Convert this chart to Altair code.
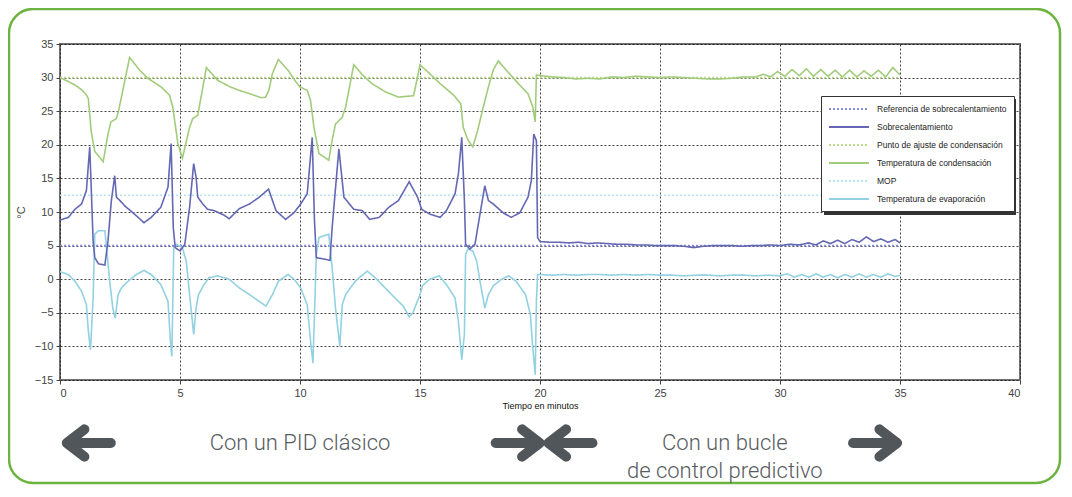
import altair as alt
import pandas as pd

# ---------------- data ----------------
series_names = [
    "Referencia de sobrecalentamiento",
    "Sobrecalentamiento",
    "Punto de ajuste de condensación",
    "Temperatura de condensación",
    "MOP",
    "Temperatura de evaporación",
]
series_colors = ["#8a8ed8", "#6468b4", "#bcdc8e", "#a2cc7b", "#b9e3ee", "#92d1e2"]
series_dash = [[2, 2], [1, 0], [2, 2], [1, 0], [2, 2], [1, 0]]

# Sobrecalentamiento
sh_t = [0, 0.35, 0.62, 0.9, 1.1, 1.24, 1.38, 1.45, 1.6, 1.87, 2.0, 2.14, 2.28, 2.35, 2.5, 2.7,
        3.1, 3.5, 3.8, 4.2, 4.5, 4.63, 4.72, 4.8, 5.0, 5.2, 5.4, 5.57, 5.67, 5.74, 5.95, 6.15,
        6.43, 6.85, 7.05, 7.47, 7.9, 8.3, 8.69, 9.0, 9.4, 9.75, 10.03, 10.3, 10.51, 10.6, 10.68,
        11.0, 11.25, 11.34, 11.62, 11.83, 12.24, 12.6, 12.9, 13.3, 13.7, 14.1, 14.55, 14.9, 15.07,
        15.4, 15.84, 16.1, 16.46, 16.6, 16.74, 16.85, 16.9, 17.08, 17.29, 17.5, 17.7, 17.85, 18.05,
        18.46, 18.8, 19.16, 19.5, 19.64, 19.74, 19.85, 19.9,
        20.0, 20.4, 20.8, 21.2, 21.6, 22.0, 22.4, 22.8, 23.2, 23.6, 24.0, 24.4, 24.8, 25.2, 25.6,
        26.0, 26.4, 26.8, 27.2, 27.6, 28.0, 28.4, 28.8, 29.2, 29.6, 30.0, 30.4, 30.8, 31.2, 31.5,
        31.8, 32.1, 32.4, 32.7, 33.0, 33.3, 33.6, 33.9, 34.2, 34.5, 34.8, 35.0]
sh_v = [8.8, 9.2, 10.4, 11.2, 13.2, 19.7, 5.7, 3.2, 2.3, 2.1, 5.7, 11.7, 15.4, 12.2, 11.7, 10.9,
        9.7, 8.4, 9.2, 10.7, 13.7, 20.2, 7.7, 4.7, 4.2, 5.2, 10.7, 17.2, 15.2, 12.2, 11.2, 10.4,
        10.2, 9.5, 9.0, 10.5, 11.2, 12.2, 13.4, 10.2, 8.9, 9.9, 11.2, 12.7, 21.1, 9.0, 3.2,
        3.0, 2.8, 7.7, 19.4, 12.2, 10.4, 10.2, 8.9, 9.2, 10.7, 11.7, 14.5, 12.2, 10.4,
        9.7, 9.2, 10.2, 12.7, 15.7, 21.1, 11.7, 5.2, 4.5, 5.2, 9.7, 13.9, 11.7, 11.2,
        9.9, 9.2, 9.9, 12.2, 14.7, 21.6, 20.6, 6.2,
        5.6, 5.5, 5.5, 5.4, 5.5, 5.3, 5.4, 5.3, 5.2, 5.2, 5.1, 5.1, 5.0, 5.0, 5.0,
        4.9, 4.7, 4.9, 5.0, 5.0, 5.0, 4.9, 5.0, 5.0, 5.1, 5.0, 5.2, 5.1, 5.4, 5.1,
        5.7, 5.3, 5.8, 5.3, 5.9, 5.5, 6.3, 5.6, 6.0, 5.5, 5.9, 5.4]

# Temperatura de condensación
cond_t = [0, 0.35, 0.62, 0.9, 1.1, 1.18, 1.3, 1.45, 1.8, 2.0, 2.12, 2.35, 2.45, 2.9, 3.32, 3.66,
          4.22, 4.56, 4.7, 4.91, 5.1, 5.4, 5.53, 5.74, 6.1, 6.57, 7.1, 7.47, 7.9, 8.4, 8.57, 8.7,
          8.85, 9.1, 9.5, 9.82, 10.0, 10.3, 10.44, 10.58, 10.79, 11.2, 11.34, 11.48, 11.76, 11.9,
          12.24, 12.6, 13.0, 13.55, 14.1, 14.73, 14.87, 15.0, 15.4, 15.84, 16.4, 16.7, 16.8, 17.0,
          17.2, 17.4, 17.6, 17.85, 18.05, 18.26, 18.6, 19.1, 19.5, 19.7, 19.8, 19.85,
          20.0, 20.5, 21.0, 21.5, 22.0, 22.5, 23.0, 23.5, 24.0, 24.5, 25.0, 25.5, 26.0, 26.5,
          27.0, 27.5, 28.0, 28.5, 29.0, 29.3, 29.6, 29.9, 30.2, 30.5, 30.8, 31.1, 31.4, 31.7,
          32.0, 32.3, 32.6, 32.9, 33.2, 33.5, 33.8, 34.1, 34.4, 34.7, 35.0]
cond_v = [30.0, 29.4, 28.9, 28.2, 27.4, 26.9, 22.0, 19.0, 17.5, 21.6, 23.4, 23.9, 25.2, 33.0, 31.1, 29.9,
          28.6, 27.4, 25.6, 20.2, 18.0, 22.6, 23.9, 24.4, 31.5, 29.6, 28.6, 28.1, 27.6, 27.0, 27.1, 28.1,
          30.6, 32.7, 31.1, 29.4, 28.6, 28.1, 26.6, 22.6, 18.7, 17.7, 20.7, 23.1, 24.1, 25.6,
          31.9, 30.4, 29.1, 27.9, 27.1, 27.3, 29.6, 31.9, 30.6, 29.1, 27.4, 26.1, 22.6, 20.7,
          19.7, 22.1, 25.1, 28.6, 31.1, 32.5, 31.1, 29.1, 27.6, 25.6, 23.4, 30.4,
          30.3, 30.1, 30.0, 29.8, 29.9, 29.8, 30.1, 30.0, 30.2, 30.1, 30.0, 30.1, 30.0, 29.9,
          29.8, 29.8, 29.9, 30.1, 30.1, 30.5, 30.1, 30.9, 30.2, 31.2, 30.3, 31.3, 30.2, 31.2,
          30.2, 31.1, 30.1, 31.1, 30.1, 31.0, 30.2, 31.1, 30.1, 31.5, 30.4]

# Temperatura de evaporación
evap_t = [0, 0.35, 0.62, 0.9, 1.1, 1.18, 1.27, 1.38, 1.45, 1.6, 1.87, 1.94, 2.07, 2.2, 2.3, 2.42,
          2.56, 2.84, 3.18, 3.5, 3.8, 4.2, 4.5, 4.6, 4.66, 4.74, 4.84, 5.1, 5.26, 5.4, 5.57, 5.67,
          5.77, 6.0, 6.2, 6.57, 6.85, 7.05, 7.47, 7.9, 8.3, 8.58, 8.85, 9.1, 9.5, 9.75, 10.03,
          10.3, 10.44, 10.54, 10.68, 10.79, 11.2, 11.34, 11.48, 11.66, 11.76, 11.9, 12.3, 12.8,
          13.14, 13.55, 13.96, 14.3, 14.55, 14.7, 15.0, 15.1, 15.4, 15.8, 16.1, 16.46, 16.6,
          16.74, 16.85, 16.9, 17.0, 17.2, 17.36, 17.5, 17.7, 17.85, 18.05, 18.4, 18.7, 19.0,
          19.4, 19.6, 19.7, 19.8, 19.85, 19.9,
          20.0, 20.5, 21.0, 21.5, 22.0, 22.5, 23.0, 23.5, 24.0, 24.5, 25.0, 25.5, 26.0, 26.5,
          27.0, 27.5, 28.0, 28.5, 29.0, 29.5, 30.0, 30.3, 30.6, 30.9, 31.2, 31.5, 31.8, 32.1,
          32.4, 32.7, 33.0, 33.3, 33.6, 33.9, 34.2, 34.5, 34.8, 35.0]
evap_v = [1.1, 0.7, -0.3, -1.8, -3.8, -7.7, -10.5, -2.8, 6.7, 7.2, 7.2, 4.7, -0.3, -4.3, -5.8, -2.3,
          -1.3, -0.3, 0.7, 1.3, 0.7, -0.8, -3.3, -9.2, -11.5, 4.7, 5.2, 4.7, 2.7, -2.3, -8.2, -4.3,
          -2.3, -0.8, 0.2, 0.5, 0.2, 0.0, -1.3, -2.3, -3.3, -4.0, -2.3, -0.3, 0.7, 0.0, -1.3,
          -3.8, -9.2, -12.5, 3.7, 6.2, 6.7, 1.7, -4.3, -10.0, -3.8, -2.3, -0.3, 1.2,
          0.2, -1.3, -2.8, -4.0, -5.6, -5.0, -2.3, -1.0, 0.0, 0.5, -0.8, -2.8, -6.3,
          -12.0, -8.2, 3.7, 4.5, 4.2, 2.7, -0.3, -4.3, -2.3, -1.0, 0.0, 0.5, -0.3,
          -2.3, -5.3, -10.2, -14.2, -3.3, 0.7,
          0.7, 0.6, 0.7, 0.6, 0.7, 0.7, 0.6, 0.7, 0.6, 0.7, 0.6, 0.6, 0.5, 0.6,
          0.6, 0.5, 0.6, 0.6, 0.5, 0.6, 0.5, 0.8, 0.3, 0.7, 0.3, 0.8, 0.3, 0.7,
          0.2, 0.7, 0.3, 0.8, 0.3, 0.7, 0.3, 0.8, 0.4, 0.6]

# Reference (set-point) lines
ref_t = [0, 35]
ref_sh_v = [5, 5]
ref_cond_v = [30, 30]
ref_mop_v = [12.5, 12.5]

x_ticks = [0, 5, 10, 15, 20, 25, 30, 35, 40]
y_ticks = [-15, -10, -5, 0, 5, 10, 15, 20, 25, 30, 35]

# Bottom annotations
ann1_text = ["Con un PID clásico", "Con un bucle"]
ann1_t = [10.0, 27.7]
ann2_text = ["de control predictivo"]
ann2_t = [27.7]
arrow_t = [1.2, 19.07, 21.27, 33.96]
arrow_dir = ["left", "right", "left", "right"]

# ---------------- build tables ----------------
rows = []
def add(name, ts, vs):
    for t, v in zip(ts, vs):
        rows.append({"t": t, "v": v, "serie": name})

add(series_names[0], ref_t, ref_sh_v)
add(series_names[2], ref_t, ref_cond_v)
add(series_names[4], ref_t, ref_mop_v)
add(series_names[5], evap_t, evap_v)
add(series_names[3], cond_t, cond_v)
add(series_names[1], sh_t, sh_v)
df = pd.DataFrame(rows)

ann1 = pd.DataFrame({"t": ann1_t, "txt": ann1_text})
ann2 = pd.DataFrame({"t": ann2_t, "txt": ann2_text})
arrows = pd.DataFrame({"t": arrow_t, "dir": arrow_dir})
frame = pd.DataFrame({"k": [0]})

x_scale = alt.Scale(domain=[0, 40], nice=False, zero=False)
y_scale = alt.Scale(domain=[-15, 35], nice=False, zero=False)

legend = alt.Legend(
    title=None, orient="none", legendX=761, legendY=52,
    symbolType="M-1,0H7", symbolSize=100, symbolStrokeWidth=2,
    labelFontSize=8.5, labelFont="Liberation Sans", labelColor="#222",
    labelLimit=260, labelOffset=37, rowPadding=7,
    strokeColor="#333", fillColor="white", padding=7,
)

lines = alt.Chart(df).mark_line(strokeWidth=1.6, clip=True).encode(
    x=alt.X("t:Q", scale=x_scale,
            axis=alt.Axis(values=x_ticks, title="Tiempo en minutos", format="d")),
    y=alt.Y("v:Q", scale=y_scale,
            axis=alt.Axis(values=y_ticks, title="°C", format="d")),
    color=alt.Color("serie:N", scale=alt.Scale(domain=series_names, range=series_colors),
                    legend=legend, sort=series_names),
    strokeDash=alt.StrokeDash("serie:N", scale=alt.Scale(domain=series_names, range=series_dash),
                              legend=legend, sort=series_names),
    detail="serie:N",
)

border = alt.Chart(frame).mark_rect(
    cornerRadius=24, fillOpacity=0, stroke="#6cb33f", strokeWidth=2.5
).encode(x=alt.value(-51), x2=alt.value(1000), y=alt.value(-35), y2=alt.value(439))

# shadow under the legend box (decoration)
legend_shadow = alt.Chart(frame).mark_rect(fill="#333").encode(
    x=alt.value(764), x2=alt.value(956), y=alt.value(55), y2=alt.value(171)
)

path_left = "M1,0L-1,0M-0.2,-0.62L-1,0L-0.2,0.62"
path_right = "M-1,0L1,0M0.2,-0.62L1,0L0.2,0.62"
arrow_layer = alt.Chart(arrows).mark_point(
    filled=False, stroke="#50565a", strokeWidth=10, strokeCap="round", strokeJoin="round",
    size=1936, opacity=1
).encode(
    x=alt.X("t:Q", scale=x_scale),
    y=alt.value(399),
    shape=alt.Shape("dir:N", scale=alt.Scale(domain=["left", "right"], range=[path_left, path_right]),
                    legend=None),
)

text1 = alt.Chart(ann1).mark_text(
    font="Roboto", fontWeight=300, fontSize=22, color="#575c60", align="center", baseline="middle"
).encode(x=alt.X("t:Q", scale=x_scale), y=alt.value(399), text="txt:N")
text2 = alt.Chart(ann2).mark_text(
    font="Roboto", fontWeight=300, fontSize=22, color="#575c60", align="center", baseline="middle"
).encode(x=alt.X("t:Q", scale=x_scale), y=alt.value(427), text="txt:N")

chart = alt.layer(border, lines, legend_shadow, arrow_layer, text1, text2).properties(
    width=960, height=336,
    autosize=alt.AutoSizeParams(type="none"),
    padding={"left": 52, "top": 36, "right": 42, "bottom": 105},
    background="white",
).configure_view(
    stroke="#6f6f6f", strokeWidth=2
).configure_axis(
    grid=True, gridColor="#222", gridDash=[2, 2], gridWidth=1, gridOpacity=0.85,
    domain=False, ticks=True, tickColor="#444", tickSize=4,
    labelFont="Liberation Sans", labelFontSize=11, labelColor="#444",
    titleFont="Liberation Sans", titleFontWeight="normal", titleColor="#111",
).configure_axisX(
    labelPadding=3, titleFontSize=9, titlePadding=3,
).configure_axisY(
    labelPadding=3, titleFontSize=11, titlePadding=8, titleColor="#444",
)

chart.save("out.html", embed_options={"renderer": "svg", "actions": False})
